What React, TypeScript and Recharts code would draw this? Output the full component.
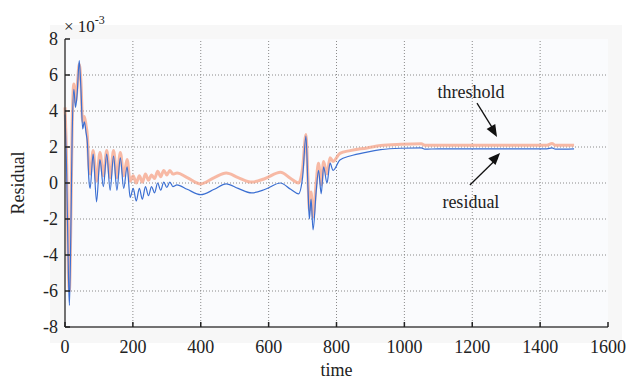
import React from 'react';
import {
	LineChart,
	Line,
	XAxis,
	YAxis,
	CartesianGrid,
	ReferenceLine,
	ReferenceDot,
} from 'recharts';

// time samples (shared by both curves)
const time = [
	0, 5, 10, 13, 17, 21, 26, 31, 36, 42, 47, 52, 57, 62, 66, 70, 74, 83, 93, 103,
	113, 123, 133, 143, 153, 163, 173, 183, 192, 201, 210, 219, 228, 237, 246, 255,
	264, 273, 282, 291, 300, 309, 318, 330, 360, 400, 440, 475, 510, 550, 590, 635,
	665, 688, 700, 710, 716, 720, 725, 731, 740, 747, 755, 762, 772, 781, 790, 810,
	840, 890, 930, 990, 1050, 1060, 1100, 1200, 1300, 1420, 1435, 1445, 1500,
];

// residual signal, x 10^-3
const residual = [
	3.8, 0.5, -5.0, -6.8, -3.0, 2.5, 5.2, 4.2, 5.0, 6.8, 5.2, 3.0, 3.4, 2.8, 2.2, 0.3, -0.3, 1.6, -1.05, 1.3,
	-0.2, 1.6, -0.4, 1.5, -0.4, 1.4, -0.3, 0.9, -0.8, -0.3, -1.0, -0.3, -0.9, -0.2, -0.7, -0.2,
	-0.55, 0.0, -0.4, 0.05, -0.25, 0.05, -0.2, -0.1, -0.35, -0.65, -0.35, -0.05, -0.3, -0.55, -0.35, 0.0,
	-0.35, -0.6, 0.3, 2.6, -0.3, -2.0, -0.9, -2.6, -0.5, 0.7, -0.6, 0.9, 0.0, 1.1, 0.7, 1.28,
	1.5, 1.72, 1.85, 1.93, 1.95, 1.88, 1.9, 1.9, 1.9, 1.9, 1.95, 1.88, 1.9,
];

// threshold, x 10^-3
const threshold = [
	4.2, 1.0, -5.0, -6.0, -2.5, 3.0, 5.5, 4.5, 5.4, 6.6, 5.6, 3.4, 3.7, 3.2, 2.6, 1.0, 0.5, 1.8, 0.1, 1.7,
	0.4, 1.8, 0.3, 1.8, 0.3, 1.7, 0.4, 1.3, 0.1, 0.4, 0.0, 0.4, 0.05, 0.5, 0.15, 0.45,
	0.25, 0.65, 0.35, 0.7, 0.45, 0.7, 0.5, 0.55, 0.3, -0.05, 0.3, 0.55, 0.3, 0.05, 0.25, 0.6,
	0.25, 0.0, 0.8, 2.7, 0.2, -1.5, -0.5, -1.9, 0.0, 1.1, -0.1, 1.2, 0.5, 1.4, 1.2, 1.65,
	1.8, 1.95, 2.08, 2.15, 2.18, 2.1, 2.1, 2.1, 2.1, 2.1, 2.2, 2.1, 2.1,
];

const xTicks = [0, 200, 400, 600, 800, 1000, 1200, 1400, 1600];
const yTicks = [-8, -6, -4, -2, 0, 2, 4, 6, 8];

const data = time.map((t, i) => ({ t, residual: residual[i], threshold: threshold[i] }));

const FONT = '"Liberation Serif", "Times New Roman", serif';
const AXIS = '#444';
const textStyle = { fontFamily: FONT };

const BottomTick = (p: any) => (
	<g>
		<line x1={p.x} y1={p.y} x2={p.x} y2={p.y - 5} stroke="#222" strokeWidth={1.5} />
		<text x={p.x} y={p.y + 26} textAnchor="middle" fontSize={18} fill="#222" style={textStyle}>
			{p.payload.value}
		</text>
	</g>
);

const TopTick = (p: any) => (
	<line x1={p.x} y1={p.y} x2={p.x} y2={p.y + 5} stroke="#222" strokeWidth={1.5} />
);

const LeftTick = (p: any) => (
	<g>
		<line x1={p.x} y1={p.y} x2={p.x + 5} y2={p.y} stroke="#222" strokeWidth={1.5} />
		<text x={p.x - 7} y={p.y + 6} textAnchor="end" fontSize={18} fill="#222" style={textStyle}>
			{p.payload.value}
		</text>
	</g>
);

const RightTick = (p: any) => (
	<line x1={p.x} y1={p.y} x2={p.x - 5} y2={p.y} stroke="#222" strokeWidth={1.5} />
);

const note = (label: string) => (p: any) => (
	<text x={p.cx} y={p.cy + 6} textAnchor="middle" fontSize={18} fill="#222" style={textStyle}>
		{label}
	</text>
);

const head = (angle: number) => (p: any) => (
	<polygon
		points="0,0 -12,-5 -12,5"
		fill="#111"
		transform={`translate(${p.cx},${p.cy}) rotate(${angle})`}
	/>
);

export default function App() {
	return (
		<div style={{ position: 'absolute', left: 0, top: 0, width: 633, height: 381, background: '#fff', fontFamily: FONT }}>
			<div style={{ position: 'absolute', left: 50, top: 25, width: 572, height: 318, background: '#f7f7f7' }} />
			<div style={{ position: 'absolute', left: 64, top: 18, fontSize: 17, lineHeight: 1, color: '#222' }}>
				× 10<span style={{ fontSize: 12, position: 'relative', top: -8 }}>-3</span>
			</div>
			<div style={{ position: 'absolute', left: 0, top: 0 }}>
				<LineChart width={633} height={381} data={data} margin={{ top: 39, right: 25, left: 0, bottom: 0 }}>
					<CartesianGrid horizontal={false} vertical={false} fill="#fafbfd" />
					{xTicks.slice(1, -1).map((v) => (
						<ReferenceLine key={'gx' + v} x={v} stroke="#8a8a8a" strokeDasharray="1 2" />
					))}
					{yTicks.slice(1, -1).map((v) => (
						<ReferenceLine key={'gy' + v} y={v} stroke="#8a8a8a" strokeDasharray="1 2" />
					))}
					<XAxis
						dataKey="t"
						type="number"
						domain={[0, 1600]}
						ticks={xTicks}
						height={54}
						tickLine={false}
						tickSize={0}
						tickMargin={0}
						stroke={AXIS}
						strokeWidth={1.5}
						tick={BottomTick}
						interval={0}
						label={(lp: any) => (
							<text
								x={lp.viewBox.x + lp.viewBox.width / 2}
								y={lp.viewBox.y + 49}
								textAnchor="middle"
								fontSize={18}
								fill="#222"
								style={textStyle}
							>
								time
							</text>
						)}
					/>
					<XAxis
						xAxisId="top"
						orientation="top"
						dataKey="t"
						type="number"
						domain={[0, 1600]}
						ticks={xTicks}
						height={0}
						tickLine={false}
						tickSize={0}
						tickMargin={0}
						stroke={AXIS}
						strokeWidth={1.5}
						tick={TopTick}
						interval={0}
					/>
					<YAxis
						type="number"
						domain={[-8, 8]}
						ticks={yTicks}
						width={65}
						tickLine={false}
						tickSize={0}
						tickMargin={0}
						stroke={AXIS}
						strokeWidth={1.5}
						tick={LeftTick}
						interval={0}
						label={(lp: any) => (
							<text
								x={18}
								y={lp.viewBox.y + lp.viewBox.height / 2}
								textAnchor="middle"
								fontSize={18}
								fill="#222"
								style={textStyle}
								transform={`rotate(-90, 18, ${lp.viewBox.y + lp.viewBox.height / 2})`}
								dy={6}
							>
								Residual
							</text>
						)}
					/>
					<YAxis
						yAxisId="right"
						orientation="right"
						type="number"
						domain={[-8, 8]}
						ticks={yTicks}
						width={0}
						tickLine={false}
						tickSize={0}
						tickMargin={0}
						stroke={AXIS}
						strokeWidth={1.5}
						tick={RightTick}
						interval={0}
					/>
					<Line
						type="monotone"
						dataKey="threshold"
						stroke="#f5a387"
						strokeOpacity={0.75}
						strokeWidth={3}
						dot={false}
						isAnimationActive={false}
					/>
					<Line
						type="monotone"
						dataKey="residual"
						stroke="#3b6fd2"
						strokeWidth={1.2}
						dot={false}
						isAnimationActive={false}
					/>
					<ReferenceLine segment={[{ x: 1214, y: 4.44 }, { x: 1268, y: 2.8 }]} stroke="#111" strokeWidth={1.3} />
					<ReferenceDot x={1273} y={2.56} r={0} shape={head(59.5)} />
					<ReferenceLine segment={[{ x: 1193, y: -0.11 }, { x: 1275, y: 1.4 }]} stroke="#111" strokeWidth={1.3} />
					<ReferenceDot x={1282} y={1.67} r={0} shape={head(-46.8)} />
					<ReferenceDot x={1196} y={5.06} r={0} shape={note('threshold')} />
					<ReferenceDot x={1196} y={-1.06} r={0} shape={note('residual')} />
				</LineChart>
			</div>
		</div>
	);
}
